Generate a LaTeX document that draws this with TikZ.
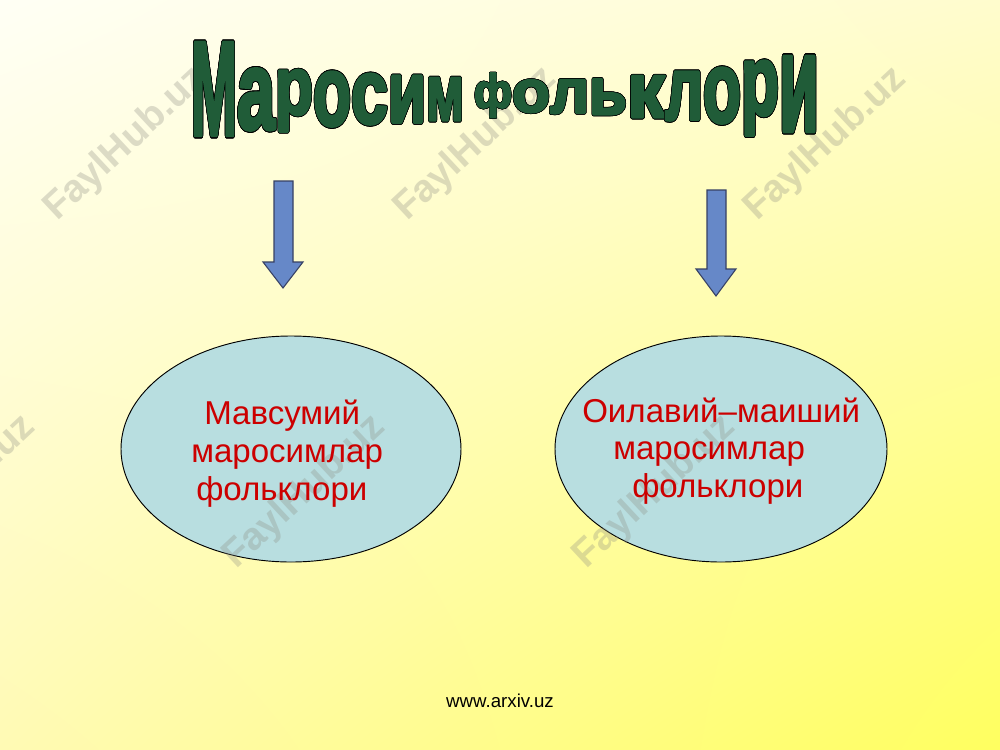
\documentclass[tikz,border=0pt]{standalone}
\usepackage{fontspec}
\setmainfont{Liberation Sans}
\newfontfamily\titlefont[FakeBold=3.5]{Liberation Sans Bold}
\usepackage{graphicx}
\usepackage{contour}
\contourlength{0.5pt}
\usetikzlibrary{shapes.geometric,shadings}
\definecolor{bgUL}{RGB}{255,255,245}
\definecolor{bgUR}{RGB}{255,252,205}
\definecolor{bgLL}{RGB}{255,250,180}
\definecolor{bgLR}{RGB}{255,255,95}
\definecolor{titlegreen}{RGB}{32,92,56}
\definecolor{arrowblue}{RGB}{102,136,200}
\definecolor{arrowedge}{RGB}{55,65,100}
\definecolor{ellfill}{RGB}{184,222,224}
\definecolor{textred}{RGB}{204,0,0}
\definecolor{wmgray}{RGB}{140,140,130}
\newcommand\titleletter[6]{% name, letter, xl, xr, top, bottom
  \pgfmathsetmacro\tlw{(#4-#3+4)*0.75}%
  \pgfmathsetmacro\tlh{(#6-#5)*0.75}%
  \node[titlelt] (#1) at (#3-2,#6) {\resizebox*{\tlw pt}{\tlh pt}{\color{titlegreen}\contour{black}{#2}}};}
\begin{document}
\begin{tikzpicture}[x=0.75pt,y=-0.75pt,
  titlelt/.style={anchor=south west, inner sep=0pt, outer sep=0pt, font=\titlefont\fontsize{60}{60}\selectfont},
  blockarrow/.style={draw=arrowedge, line width=0.8pt, fill=arrowblue},
  bubble/.style={ellipse, draw=black, line width=0.7pt, fill=ellfill, inner sep=0pt},
  bubbletext/.style={anchor=base west, inner sep=0pt, text=textred, font=\fontsize{24.8}{28}\selectfont},
  wm/.style={anchor=base west, inner sep=0pt, rotate=43, text=wmgray, text opacity=0.3, font=\fontsize{29}{30}\selectfont\bfseries},
  footer/.style={anchor=base, inner sep=0pt, font=\fontsize{14}{16}\selectfont}]
\useasboundingbox (0,0) rectangle (1000,750);
\shade[upper left=bgUL, upper right=bgUR, lower left=bgLL, lower right=bgLR] (0,0) rectangle (1000,750);

% block arrows
\draw[blockarrow] (274,181) -- (293,181) -- (293,262) -- (303,262) -- (283,288) -- (263,262) -- (274,262) -- cycle;
\draw[blockarrow] (707,190) -- (726,190) -- (726,269) -- (736,269) -- (716,296) -- (696,269) -- (707,269) -- cycle;

% ellipses
\node[bubble, minimum width=255pt, minimum height=169.5pt] (left) at (291,449) {};
\node[bubble, minimum width=249pt, minimum height=169.5pt] (right) at (721,449) {};

% watermarks
\node[wm] (wm1) at (57,222) {FaylHub.uz};
\node[wm] (wm2) at (407,222) {FaylHub.uz};
\node[wm] (wm3) at (757,222) {FaylHub.uz};
\node[wm] (wm4) at (-114,570) {FaylHub.uz};
\node[wm] (wm5) at (236,570) {FaylHub.uz};
\node[wm] (wm6) at (586,570) {FaylHub.uz};

% ellipse texts
\node[bubbletext] (l1) at (204,424) {Мавсумий};
\node[bubbletext] (l2) at (191,462) {маросимлар};
\node[bubbletext] (l3) at (196,500) {фольклори};
\node[bubbletext] (r1) at (582,422) {Оилавий–маиший};
\node[bubbletext] (r2) at (613,459) {маросимлар};
\node[bubbletext] (r3) at (632,497) {фольклори};

% title
\begin{scope}[line join=round, miter limit=1]
\titleletter{t1}{М}{193}{235}{43}{136}
\titleletter{t2}{а}{239}{273}{69}{131}
\titleletter{t3}{р}{277}{311}{70}{132}
\titleletter{t4}{о}{315}{349}{72}{127}
\titleletter{t5}{с}{353}{386}{74}{125}
\titleletter{t6}{и}{390}{424}{76}{123}
\titleletter{t7}{м}{428}{462}{78}{121}
\titleletter{t8}{ф}{476}{510}{73}{118}
\titleletter{t9}{о}{514}{548}{80}{113}
\titleletter{t10}{л}{552}{587}{80}{114}
\titleletter{t11}{ь}{591}{625}{79}{115}
\titleletter{t12}{к}{629}{663}{76}{118}
\titleletter{t13}{л}{667}{701}{72}{121}
\titleletter{t14}{о}{705}{739}{68}{124}
\titleletter{t15}{р}{743}{777}{61}{136}
\titleletter{t16}{и}{781}{817}{57}{132}
\end{scope}

% footer
\node[footer] (foot) at (500,707) {www.arxiv.uz};
\end{tikzpicture}
\end{document}
